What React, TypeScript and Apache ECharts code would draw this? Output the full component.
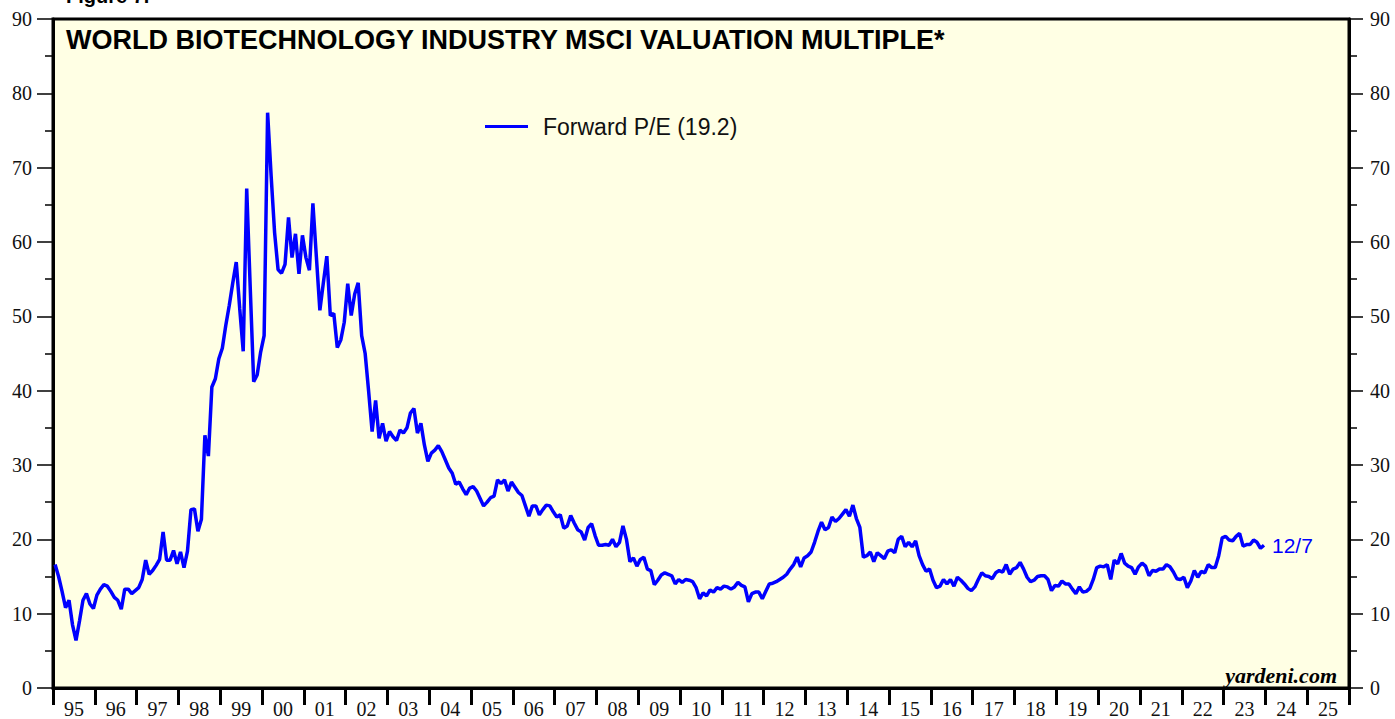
import React, { useEffect, useRef } from "react";
import * as echarts from "echarts";

const yearLabels = ["95","96","97","98","99","00","01","02","03","04","05","06","07","08","09","10","11","12","13","14","15","16","17","18","19","20","21","22","23","24","25"];
const yTicks = [0, 10, 20, 30, 40, 50, 60, 70, 80, 90];

// Forward P/E, monthly (Jan..Dec)
const pe1995 = [16.6, 15.0, 13.0, 10.8, 11.8, 8.5, 6.4, 9.0, 11.8, 12.7, 11.3, 10.7];
const pe1996 = [12.5, 13.3, 13.9, 13.7, 13.0, 12.2, 11.8, 10.6, 13.3, 13.3, 12.7, 13.1];
const pe1997 = [13.5, 14.6, 17.2, 15.3, 15.8, 16.5, 17.3, 21.0, 17.2, 17.2, 18.5, 16.7];
const pe1998 = [18.3, 16.2, 18.4, 24.0, 24.1, 21.1, 22.7, 34.0, 31.2, 40.5, 41.6, 44.3];
const pe1999 = [45.7, 48.8, 51.5, 54.5, 57.3, 51.0, 45.3, 67.2, 54.0, 41.2, 42.1, 45.2];
const pe2000 = [47.4, 77.4, 69.0, 61.3, 56.3, 55.8, 57.0, 63.3, 57.9, 61.1, 55.7, 60.9];
const pe2001 = [57.9, 56.2, 65.2, 58.0, 50.8, 54.5, 58.1, 50.1, 50.4, 45.8, 46.8, 49.2];
const pe2002 = [54.4, 50.1, 53.0, 54.5, 47.4, 45.0, 39.9, 34.5, 38.7, 33.6, 35.6, 33.2];
const pe2003 = [34.5, 33.8, 33.3, 34.7, 34.3, 35.0, 37.0, 37.6, 34.3, 35.6, 32.7, 30.5];
const pe2004 = [31.6, 32.0, 32.6, 31.8, 30.7, 29.6, 28.9, 27.4, 27.7, 26.8, 26.0, 26.9];
const pe2005 = [27.1, 26.5, 25.5, 24.5, 25.0, 25.6, 25.8, 28.0, 27.5, 28.0, 26.5, 27.7];
const pe2006 = [27.0, 26.3, 25.9, 24.5, 23.1, 24.5, 24.5, 23.3, 24.0, 24.6, 24.5, 23.7];
const pe2007 = [23.0, 23.3, 21.5, 21.8, 23.2, 22.2, 21.3, 21.0, 19.9, 21.6, 22.1, 20.5];
const pe2008 = [19.2, 19.2, 19.3, 19.2, 20.0, 19.0, 19.6, 21.8, 20.0, 17.0, 17.5, 16.4];
const pe2009 = [17.3, 17.6, 16.0, 15.8, 13.9, 14.5, 15.2, 15.5, 15.3, 15.1, 14.0, 14.6];
const pe2010 = [14.2, 14.6, 14.5, 14.3, 13.5, 12.0, 12.8, 12.4, 13.2, 12.9, 13.5, 13.3];
const pe2011 = [13.7, 13.6, 13.3, 13.6, 14.2, 13.8, 13.6, 11.6, 12.7, 12.9, 12.9, 12.0];
const pe2012 = [13.0, 14.0, 14.1, 14.3, 14.6, 14.9, 15.3, 16.0, 16.6, 17.6, 16.3, 17.5];
const pe2013 = [17.8, 18.3, 19.6, 21.1, 22.3, 21.3, 21.6, 23.0, 22.4, 22.8, 23.4, 24.0];
const pe2014 = [23.1, 24.6, 22.8, 21.6, 17.6, 17.8, 18.3, 17.0, 18.2, 17.8, 17.4, 18.4];
const pe2015 = [18.6, 18.2, 20.0, 20.4, 19.0, 19.6, 19.0, 19.8, 17.8, 16.6, 15.7, 16.0];
const pe2016 = [14.5, 13.5, 13.7, 14.6, 14.0, 14.6, 13.7, 14.9, 14.5, 14.0, 13.4, 13.1];
const pe2017 = [13.6, 14.6, 15.5, 15.1, 15.0, 14.7, 15.5, 15.8, 15.6, 16.6, 15.3, 16.0];
const pe2018 = [16.2, 16.9, 16.0, 14.9, 14.3, 14.5, 15.0, 15.1, 15.1, 14.6, 13.1, 13.8];
const pe2019 = [13.7, 14.4, 14.0, 14.0, 13.3, 12.7, 13.6, 12.9, 13.0, 13.4, 14.6, 16.2];
const pe2020 = [16.4, 16.3, 16.6, 14.6, 17.2, 16.7, 18.1, 16.8, 16.4, 16.2, 15.3, 16.3];
const pe2021 = [16.8, 16.4, 15.1, 15.8, 15.7, 16.0, 16.0, 16.6, 16.3, 15.6, 14.7, 14.6];
const pe2022 = [14.9, 13.5, 14.4, 15.8, 14.9, 15.7, 15.5, 16.6, 16.2, 16.2, 17.8, 20.2];
const pe2023 = [20.4, 19.9, 19.8, 20.4, 20.8, 19.1, 19.3, 19.3, 19.9, 19.6, 18.8, 19.2];

const peByYear: [number, number[]][] = [
  [1995, pe1995], [1996, pe1996], [1997, pe1997], [1998, pe1998], [1999, pe1999],
  [2000, pe2000], [2001, pe2001], [2002, pe2002], [2003, pe2003], [2004, pe2004],
  [2005, pe2005], [2006, pe2006], [2007, pe2007], [2008, pe2008], [2009, pe2009],
  [2010, pe2010], [2011, pe2011], [2012, pe2012], [2013, pe2013], [2014, pe2014],
  [2015, pe2015], [2016, pe2016], [2017, pe2017], [2018, pe2018], [2019, pe2019],
  [2020, pe2020], [2021, pe2021], [2022, pe2022], [2023, pe2023],
];

export default function App() {
  const ref = useRef<HTMLDivElement>(null);
  useEffect(() => {
    if (!ref.current) return;
    const chart = echarts.init(ref.current, null, { renderer: "svg" });
    const data: [number, number][] = [];
    peByYear.forEach(([y, vals]) => {
      vals.forEach((v, m) => data.push([y + (m + 0.6) / 12, v]));
    });
    const serif = "Liberation Serif";
    const sans = "Liberation Sans";
    chart.setOption({
      animation: false,
      backgroundColor: "#ffffff",
      grid: {
        left: 53,
        right: 46,
        top: 19,
        bottom: 28,
        show: true,
        backgroundColor: "#FFFFE4",
        borderColor: "#000",
        borderWidth: 3,
      },
      legend: {
        show: true,
        left: 480,
        top: 110,
        icon: "rect",
        itemWidth: 43,
        itemHeight: 3,
        data: ["Forward P/E (19.2)"],
        textStyle: { fontFamily: sans, fontSize: 23, color: "#111", padding: [0, 0, 0, 10] },
      },
      xAxis: [
        {
          type: "category",
          data: yearLabels,
          boundaryGap: true,
          axisLine: { show: true, lineStyle: { color: "#000", width: 3 } },
          axisTick: { show: true, length: 17, lineStyle: { color: "#000", width: 3 } },
          axisLabel: { fontFamily: serif, fontSize: 20, color: "#111", margin: 11 },
          splitLine: { show: false },
        },
        {
          type: "value",
          min: 1995,
          max: 2026,
          show: false,
          splitLine: { show: false },
        },
      ],
      yAxis: [
        {
          type: "value",
          min: 0,
          max: 90,
          interval: 10,
          position: "left",
          axisLine: { show: true, lineStyle: { color: "#000", width: 3 } },
          axisTick: { show: true, length: 16, lineStyle: { color: "#000", width: 1.5 } },
          minorTick: { show: true, splitNumber: 2, length: 8, lineStyle: { color: "#000", width: 1.5 } },
          axisLabel: { fontFamily: serif, fontSize: 20, color: "#111", margin: 21, formatter: (v: number) => (yTicks.includes(v) ? String(v) : "") },
          splitLine: { show: false },
        },
        {
          type: "value",
          min: 0,
          max: 90,
          interval: 10,
          position: "right",
          axisLine: { show: true, lineStyle: { color: "#000", width: 3 } },
          axisTick: { show: true, length: 14, lineStyle: { color: "#000", width: 1.5 } },
          minorTick: { show: true, splitNumber: 2, length: 8, lineStyle: { color: "#000", width: 1.5 } },
          axisLabel: { fontFamily: serif, fontSize: 20, color: "#111", margin: 21 },
          splitLine: { show: false },
        },
      ],
      series: [
        {
          name: "Forward P/E (19.2)",
          type: "line",
          xAxisIndex: 1,
          yAxisIndex: 0,
          data,
          showSymbol: false,
          symbol: "none",
          lineStyle: { color: "#0000FF", width: 3.5 },
          itemStyle: { color: "#0000FF" },
          endLabel: {
            show: true,
            formatter: "12/7",
            color: "#0000FF",
            fontFamily: sans,
            fontSize: 21,
            distance: 8,
          },
        },
      ],
      graphic: [
        {
          type: "text",
          left: 66,
          top: 26,
          style: {
            text: "WORLD BIOTECHNOLOGY INDUSTRY MSCI VALUATION MULTIPLE*",
            fontFamily: sans,
            fontWeight: "bold",
            fontSize: 27,
            fill: "#000",
          },
        },
        {
          type: "text",
          x: 66,
          y: 6,
          style: {
            text: "Figure 7.",
            fontFamily: sans,
            fontWeight: "bold",
            fontSize: 20,
            fill: "#000",
            textVerticalAlign: "bottom",
          },
        },
        {
          type: "text",
          x: 1337,
          y: 686,
          style: {
            text: "yardeni.com",
            fontFamily: serif,
            fontWeight: "bold",
            fontStyle: "italic",
            fontSize: 22,
            fill: "#000",
            textAlign: "right",
            textVerticalAlign: "bottom",
          },
        },
      ],
    });
    return () => chart.dispose();
  }, []);
  return <div ref={ref} style={{ width: 1395, height: 719, position: "absolute", left: 0, top: 0 }} />;
}
